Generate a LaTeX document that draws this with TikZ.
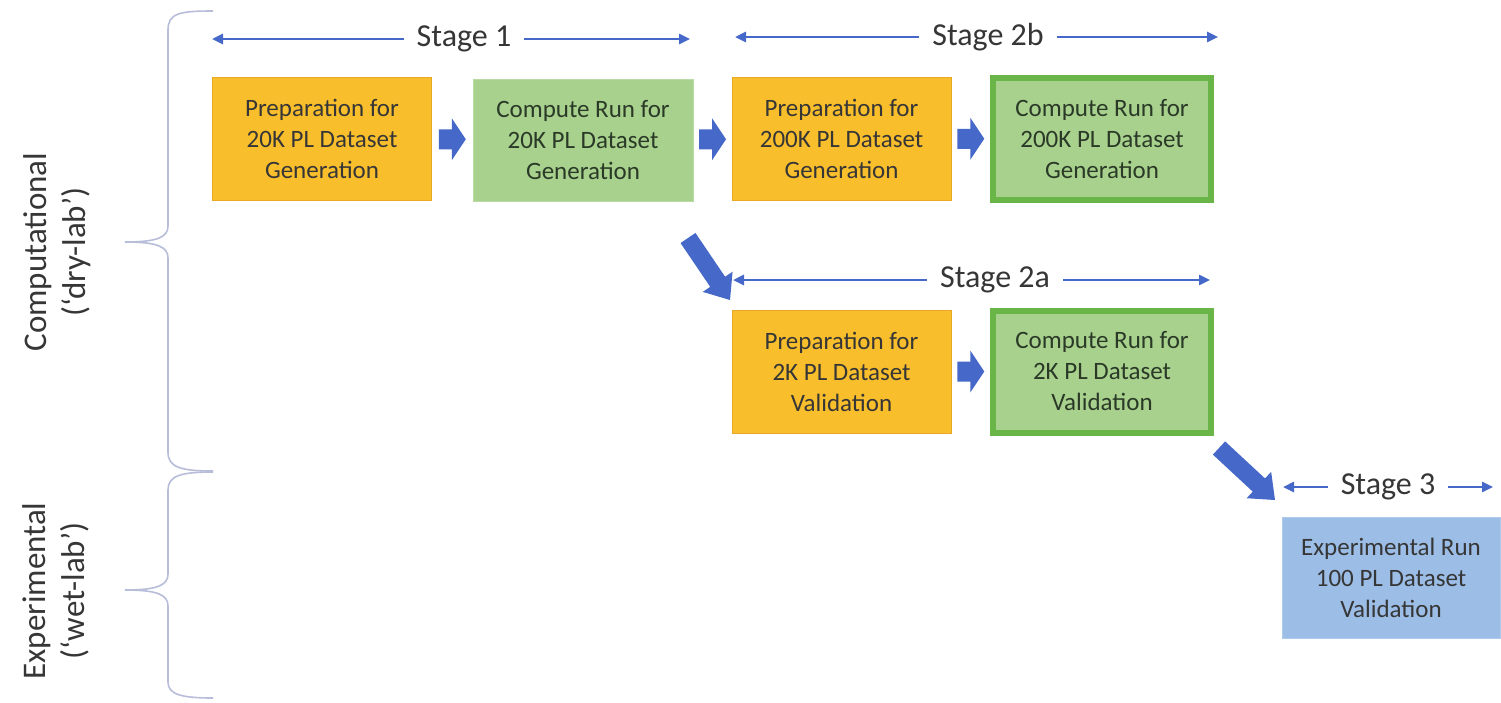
\documentclass[tikz,border=0pt]{standalone}
\usepackage{fontspec}
\setmainfont{Carlito}
\usetikzlibrary{calc,arrows.meta}

\definecolor{prepfill}{HTML}{F9BE2C}
\definecolor{prepline}{HTML}{E9A826}
\definecolor{runfill}{HTML}{A9D18E}
\definecolor{runline}{HTML}{B9DAA2}
\definecolor{runthick}{HTML}{6AB547}
\definecolor{expfill}{HTML}{9BBDE6}
\definecolor{expline}{HTML}{AFCBEC}
\definecolor{arrowblue}{HTML}{4668C8}
\definecolor{bracecol}{HTML}{B8BEDA}
\definecolor{textgray}{HTML}{363636}
\definecolor{textgreen}{HTML}{2A3A27}

% block arrow: tail, tip, shaft half-width, head half-width, head length
\newcommand\blockarrow[5]{%
  \coordinate (hb) at ($(#2)!#5!(#1)$);
  \fill[arrowblue] ($(#1)!#3!90:(#2)$) -- ($(hb)!#3!90:(#2)$)
    -- ($(hb)!#4!90:(#2)$) -- (#2) -- ($(hb)!#4!-90:(#2)$)
    -- ($(hb)!#3!-90:(#2)$) -- ($(#1)!#3!-90:(#2)$) -- cycle;
}
% short horizontal block arrow centred between two boxes
\newcommand\steparrow[2]{%
  \coordinate (sm) at ($(#1.east)!0.5!(#2.west)$);
  \coordinate (st) at ($(sm)+(-13.5,0)$);
  \coordinate (sh) at ($(sm)+(13.5,0)$);
  \blockarrow{st}{sh}{10pt}{21pt}{14pt}
}

\tikzset{
  boxtext/.style={align=center, inner sep=0pt,
    font=\fontsize{25}{31}\selectfont},
  prep/.style={boxtext, fill=prepfill, draw=prepline, line width=1pt,
    text=textgray, minimum width=219pt, minimum height=123pt},
  runbox/.style={boxtext, fill=runfill, draw=runline, line width=1pt,
    text=textgreen, minimum width=220pt, minimum height=122pt},
  runboxthick/.style={boxtext, fill=runfill, draw=runthick, line width=6pt,
    text=textgreen, minimum width=218pt, minimum height=122pt},
  expbox/.style={boxtext, fill=expfill, draw=expline, line width=1pt,
    text=textgray, minimum width=218pt, minimum height=121pt},
  stagelbl/.style={inner xsep=13pt, inner ysep=0pt, text=textgray,
    font=\fontsize{32}{38}\selectfont},
  stageline/.style={draw=arrowblue, line width=2.6pt,
    -{Triangle[length=11pt,width=10pt]}},
  sidelbl/.style={rotate=90, align=center, text=textgray,
    font=\fontsize{33}{39}\selectfont},
  bracestyle/.style={draw=bracecol, line width=1.6pt}
}

\begin{document}
\begin{tikzpicture}[x=1pt,y=-1pt]
\useasboundingbox[fill=white] (0,0) rectangle (1501,702);

% side labels
\node[sidelbl] (dry) at (57,252) {Computational\\(‘dry-lab’)};
\node[sidelbl] (wet) at (56,591) {Experimental\\(‘wet-lab’)};

% braces
\draw[bracestyle] (213,11) .. controls (180,11) and (168,13) .. (168,30)
  -- (168,226) .. controls (168,237) and (158,242) .. (125,242)
  .. controls (158,242) and (168,247) .. (168,258)
  -- (168,452) .. controls (168,467) and (180,471) .. (213,471);
\draw[bracestyle] (213,472) .. controls (180,472) and (168,476) .. (168,490)
  -- (168,574) .. controls (168,585) and (158,590) .. (125,590)
  .. controls (158,590) and (168,595) .. (168,606)
  -- (168,682) .. controls (168,694) and (180,698) .. (213,698);

% boxes
\node[prep] (A) at (322,138.5) {Preparation for\\20K PL Dataset\\Generation};
\node[runbox] (B) at (583,140) {Compute Run for\\20K PL Dataset\\Generation};
\node[prep] (C) at (841.5,138.5) {Preparation for\\200K PL Dataset\\Generation};
\node[runboxthick] (D) at (1102,139) {Compute Run for\\200K PL Dataset\\Generation};
\node[prep] (E) at (841.5,371.5) {Preparation for\\2K PL Dataset\\Validation};
\node[runboxthick] (F) at (1102,371.5) {Compute Run for\\2K PL Dataset\\Validation};
\node[expbox] (G) at (1391,577.5) {Experimental Run\\100 PL Dataset\\Validation};

% step arrows
\steparrow{A}{B}
\steparrow{B}{C}
\steparrow{C}{D}
\steparrow{E}{F}

% branch arrows
\coordinate (b1t) at (688,238);
\coordinate (b1h) at (730,300);
\blockarrow{b1t}{b1h}{9pt}{18pt}{22pt}
\coordinate (b2t) at (1219,448);
\coordinate (b2h) at (1275,500);
\blockarrow{b2t}{b2h}{9pt}{18pt}{22pt}

% stage spans
\node[stagelbl] (s1) at (464,39) {Stage 1};
\coordinate (s1l) at (212,39);
\coordinate (s1r) at (690,39);
\draw[stageline] (s1.west) -- (s1l);
\draw[stageline] (s1.east) -- (s1r);

\node[stagelbl] (s2b) at (988,37) {Stage 2b};
\coordinate (s2bl) at (735,37);
\coordinate (s2br) at (1218,37);
\draw[stageline] (s2b.west) -- (s2bl);
\draw[stageline] (s2b.east) -- (s2br);

\node[stagelbl] (s2a) at (995,280) {Stage 2a};
\coordinate (s2al) at (733,280);
\coordinate (s2ar) at (1210,280);
\draw[stageline] (s2a.west) -- (s2al);
\draw[stageline] (s2a.east) -- (s2ar);

\node[stagelbl] (s3) at (1388,487) {Stage 3};
\coordinate (s3l) at (1283,487);
\coordinate (s3r) at (1493,487);
\draw[stageline] (s3.west) -- (s3l);
\draw[stageline] (s3.east) -- (s3r);
\end{tikzpicture}
\end{document}
